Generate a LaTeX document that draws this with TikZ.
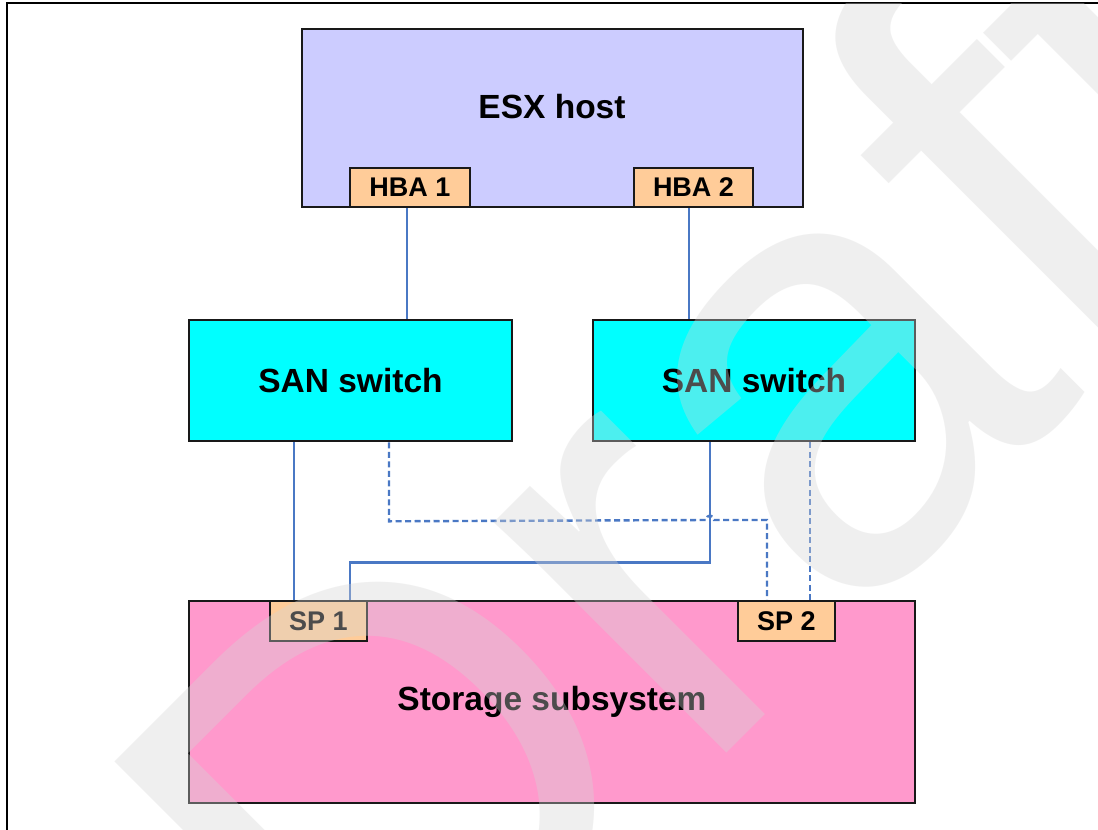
\documentclass[tikz,border=0pt]{standalone}
\usepackage{fontspec}
\setmainfont{Liberation Sans}
\usetikzlibrary{shadows}

\definecolor{hostfill}{HTML}{CCCCFF}
\definecolor{portfill}{HTML}{FFCC99}
\definecolor{switchfill}{HTML}{00FFFF}
\definecolor{storefill}{HTML}{FF99CC}
\definecolor{linkblue}{HTML}{4A78C4}
\definecolor{markgray}{HTML}{D5D5D5}

\tikzset{
  unitbox/.style={draw=black!90, line width=2.6pt, inner sep=0pt,
    drop shadow={shadow xshift=1.4pt, shadow yshift=-1.4pt, fill=black!60, opacity=.5}},
  bigtext/.style={font=\fontsize{33.5}{36}\selectfont\bfseries},
  porttext/.style={font=\fontsize{27}{30}\selectfont\bfseries},
  portbox/.style={unitbox, fill=portfill, porttext, minimum height=39pt},
  link/.style={draw=linkblue, line width=2.4pt},
  backup/.style={link, dash pattern=on 6pt off 3.5pt},
}

\begin{document}
\begin{tikzpicture}[x=1pt,y=-1pt]
	\useasboundingbox (0,0) rectangle (1098,830);
	\fill[white] (0,0) rectangle (1098,830);
	\draw[line width=1.5pt] (7,830) -- (7,3) -- (1098,3);

	% host and its adapters
	\node[unitbox, fill=hostfill, minimum width=501pt, minimum height=178pt] (host) at (552.5,118) {};
	\node[bigtext] (hostname) at (552,107) {ESX host};
	\node[portbox, minimum width=120pt] (hba1) at (410,187.5) {HBA 1};
	\node[portbox, minimum width=119pt] (hba2) at (693.5,187.5) {HBA 2};

	% fabric
	\node[unitbox, fill=switchfill, bigtext, minimum width=323pt, minimum height=121pt] (sanA) at (350.5,380.5) {SAN switch};
	\node[unitbox, fill=switchfill, bigtext, minimum width=322pt, minimum height=121pt] (sanB) at (754,380.5) {SAN switch};

	% storage
	\node[unitbox, fill=storefill, bigtext, minimum width=726pt, minimum height=202pt] (store) at (552,702) {Storage subsystem};
	\node[portbox, minimum width=97pt, minimum height=40pt] (sp1) at (318.5,621) {SP 1};
	\node[portbox, minimum width=97pt, minimum height=40pt] (sp2) at (786.5,621) {SP 2};

	% host to switches
	\draw[link] ([xshift=-3pt]hba1.south) -- ([xshift=-3pt]hba1.south |- sanA.north);
	\draw[link] ([xshift=-4.5pt]hba2.south) -- ([xshift=-4.5pt]hba2.south |- sanB.north);

	% switches to storage processors
	\draw[link] ([xshift=-24.5pt]sp1.north |- sanA.south) -- ([xshift=-24.5pt]sp1.north);
	\draw[link] ([xshift=-44pt]sanB.south) -- ++(0,120) -| ([xshift=31.5pt]sp1.north);
	\draw[backup] ([xshift=38.5pt]sanA.south) -- ++(0,79) -- (706,520)
		.. controls (707,514) and (713,514) .. (714,520) -| ([xshift=-19.5pt]sp2.north);
	\draw[backup] ([xshift=23.5pt]sp2.north |- sanB.south) -- ([xshift=23.5pt]sp2.north);

	% watermark
	\begin{scope}
		\clip (7,3) rectangle (1098,830);
		\node[anchor=base west, rotate=45, inner sep=0pt, text=markgray, text opacity=.36,
			font=\fontsize{620}{620}\selectfont\mdseries] (draftmark) at (380,1100) {Draft};
	\end{scope}
\end{tikzpicture}
\end{document}
